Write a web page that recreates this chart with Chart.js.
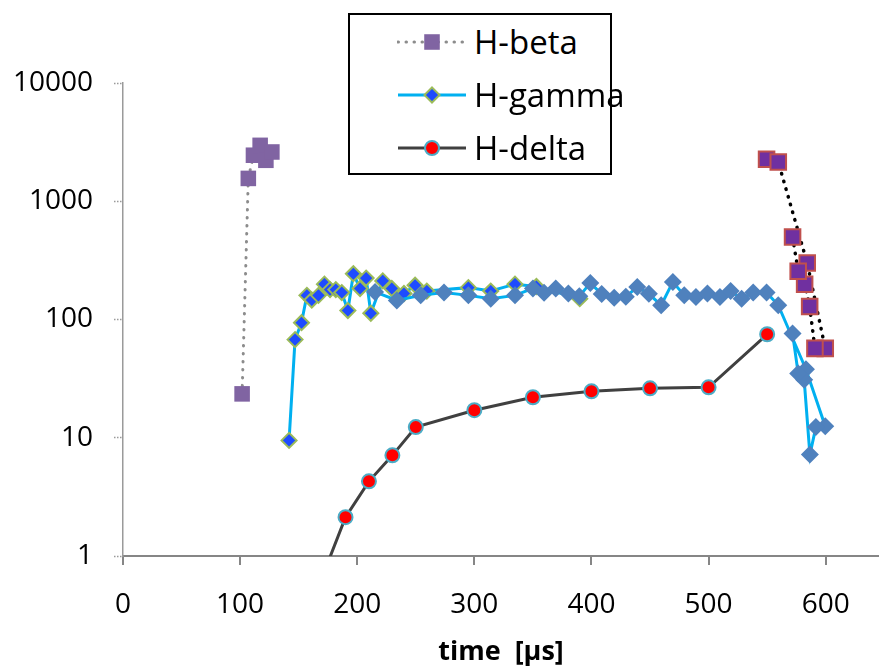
<!DOCTYPE html>
<html>
<head>
<meta charset="utf-8">
<script src="https://cdn.jsdelivr.net/npm/chart.js@4.4.0/dist/chart.umd.min.js"></script>
<style>
body { margin: 0; background: #fff; overflow: hidden; }
#wrap { position: relative; width: 879px; height: 670px; overflow: hidden; }
#legend {
    position: absolute; left: 348px; top: 13px; width: 260px; height: 158px;
    border: 2px solid #000; background: #fff;
    font-family: 'Open Sans', sans-serif; font-size: 33px; color: #000;
}
.row { position: absolute; left: 0; width: 260px; height: 44px; }
.row svg { position: absolute; left: 47px; top: 0; }
.row span { position: absolute; left: 124px; top: 0; line-height: 44px; white-space: nowrap; }
</style>
</head>
<body>
<div id="wrap">
    <canvas id="chart" width="892" height="670"></canvas>
    <div id="legend"></div>
</div>
<script>
// Data (time in µs, intensity)
const xTicks = [0, 100, 200, 300, 400, 500, 600];
const yTicks = [1, 10, 100, 1000, 10000];

const betaEarlyX = [101.7, 107, 111.4, 117.1, 122, 127.1];
const betaEarlyY = [23.5, 1560, 2450, 2970, 2220, 2610];

const betaLateX = [549.5, 559.5, 584.2, 599.6, 590.8, 586.3, 582, 576.5, 571.7];
const betaLateY = [2264, 2148, 300, 57, 57, 129, 199, 256, 499];

const gammaEarlyX = [141.8, 146.9, 152.4, 157, 161.2, 166.9, 172, 176.8, 181.7, 186.8, 192, 196.7, 202.4,
    207.6, 211.6, 221.8, 229.5, 239.9, 249.4, 259.4, 294.9, 314, 334.7, 353, 390];
const gammaEarlyY = [9.5, 67.6, 94, 160, 146, 160, 199, 179, 179, 169, 119, 244, 183,
    224, 113, 212, 183, 166, 195, 174, 186, 174, 199, 190, 150];

const gammaLateX = [215.2, 233.8, 254.2, 274.1, 294.9, 314, 334.7, 350, 359.5, 369.5, 380.3, 389.6, 399,
    408.7, 419.4, 429.3, 439.1, 449, 459.5, 469.5, 479.2, 489.2, 499, 509.7, 518.8, 528.2, 538.1, 549.5,
    559.5, 583.1, 599.6, 591.6, 586.5, 581.6, 576.5, 571.7];
const gammaLateY = [171, 145, 160, 169, 160, 150, 160, 183, 168, 183, 166, 157, 204,
    164, 153, 156, 188, 165, 132, 208, 160, 155, 166, 155, 174, 150, 169, 169,
    132, 38, 12.5, 12.3, 7.2, 31, 35, 76];

const deltaX = [170, 190, 210, 230, 250, 300, 350, 400, 450, 500, 550];
const deltaY = [0.66, 2.13, 4.28, 7.1, 12.3, 17.1, 22, 24.7, 26.2, 26.7, 75];

const toPoints = (xs, ys) => xs.map((x, i) => ({ x: x, y: ys[i] }));

Chart.defaults.font.family = "'Open Sans', sans-serif";
Chart.defaults.color = '#000';

const datasets = [
    {
        label: 'H-beta',
        data: toPoints(betaEarlyX, betaEarlyY),
        borderColor: '#8c8c8c', borderWidth: 3, borderDash: [0.5, 7.5], borderCapStyle: 'round',
        pointStyle: 'rect', pointRadius: 11, pointBackgroundColor: '#8064A2', pointBorderColor: '#8064A2',
        pointBorderWidth: 0, order: 4
    },
    {
        label: 'H-gamma',
        data: toPoints(gammaEarlyX, gammaEarlyY),
        borderColor: '#00B0F0', borderWidth: 3,
        pointStyle: 'rectRot', pointRadius: 7.5, pointBackgroundColor: '#1E4BFF', pointBorderColor: '#9BBB59',
        pointBorderWidth: 2, order: 3
    },
    {
        label: 'H-delta',
        data: toPoints(deltaX, deltaY),
        borderColor: '#404040', borderWidth: 3,
        pointStyle: 'circle', pointRadius: 7, pointBackgroundColor: '#FF0000', pointBorderColor: '#4BACC6',
        pointBorderWidth: 2, order: 2
    },
    {
        label: '',
        data: toPoints(betaLateX, betaLateY),
        borderColor: '#000', borderWidth: 3.5, borderDash: [0.5, 7.5], borderCapStyle: 'round',
        pointStyle: 'rect', pointRadius: 11, pointBackgroundColor: '#7030A0', pointBorderColor: '#C0504D',
        pointBorderWidth: 2, order: 1
    },
    {
        label: '',
        data: toPoints(gammaLateX, gammaLateY),
        borderColor: '#00B0F0', borderWidth: 3,
        pointStyle: 'rectRot', pointRadius: 9, pointBackgroundColor: '#4F81BD', pointBorderColor: '#4F81BD',
        pointBorderWidth: 0, order: 0
    }
];

const chart = new Chart(document.getElementById('chart'), {
    type: 'line',
    data: { datasets: datasets },
    options: {
        responsive: false,
        animation: false,
        layout: { padding: { top: 83, left: 0, right: 0, bottom: 1 } },
        elements: { line: { tension: 0, fill: false } },
        plugins: { legend: { display: false }, tooltip: { enabled: false } },
        scales: {
            x: {
                type: 'linear', min: 0, max: 645.5,
                afterBuildTicks: s => { s.ticks = xTicks.map(v => ({ value: v })); },
                afterFit: s => { s.height = 113; s.paddingLeft = 0; s.paddingRight = 0; },
                ticks: { padding: 23, font: { size: 28 }, maxRotation: 0 },
                border: { color: '#868686', width: 2 },
                grid: { drawOnChartArea: false, tickLength: 9, color: '#868686', lineWidth: 2 },
                title: { display: true, text: 'time  [µs]', font: { size: 27, weight: 'bold' }, padding: { top: 12, bottom: 0 } }
            },
            y: {
                type: 'logarithmic', min: 1, max: 10000,
                afterBuildTicks: s => { s.ticks = yTicks.map(v => ({ value: v })); },
                afterFit: s => { s.width = 123; },
                ticks: { padding: 21, font: { size: 28 }, callback: v => String(v) },
                border: { color: '#9a9a9a', width: 1.5, dash: [1.5, 1.5] },
                grid: { drawOnChartArea: false, tickLength: 9, tickColor: '#9a9a9a', tickBorderDash: [1.5, 1.5], tickWidth: 1.5 }
            }
        }
    }
});

// Legend (only the three named series)
const legendEl = document.getElementById('legend');
const rowTops = [5, 58, 111];
datasets.filter(d => d.label).forEach((d, i) => {
    const row = document.createElement('div');
    row.className = 'row';
    row.style.top = rowTops[i] + 'px';
    const dash = d.borderDash ? `stroke-dasharray="0.5 7.5" stroke-linecap="round"` : '';
    const r = d.pointRadius;
    let marker = '';
    if (d.pointStyle === 'rect') {
        const s = r * Math.SQRT1_2;
        marker = `<rect x="${35 - s}" y="${22 - s}" width="${2 * s}" height="${2 * s}" fill="${d.pointBackgroundColor}"/>`;
    } else if (d.pointStyle === 'rectRot') {
        marker = `<polygon points="35,${22 - r} ${35 + r},22 35,${22 + r} ${35 - r},22" fill="${d.pointBackgroundColor}" stroke="${d.pointBorderColor}" stroke-width="${d.pointBorderWidth}"/>`;
    } else {
        marker = `<circle cx="35" cy="22" r="${r}" fill="${d.pointBackgroundColor}" stroke="${d.pointBorderColor}" stroke-width="${d.pointBorderWidth}"/>`;
    }
    row.innerHTML = `<svg width="70" height="44"><line x1="1" y1="22" x2="69" y2="22" stroke="${d.borderColor}" stroke-width="3" ${dash}/>${marker}</svg><span>${d.label}</span>`;
    legendEl.appendChild(row);
});
</script>
</body>
</html>
